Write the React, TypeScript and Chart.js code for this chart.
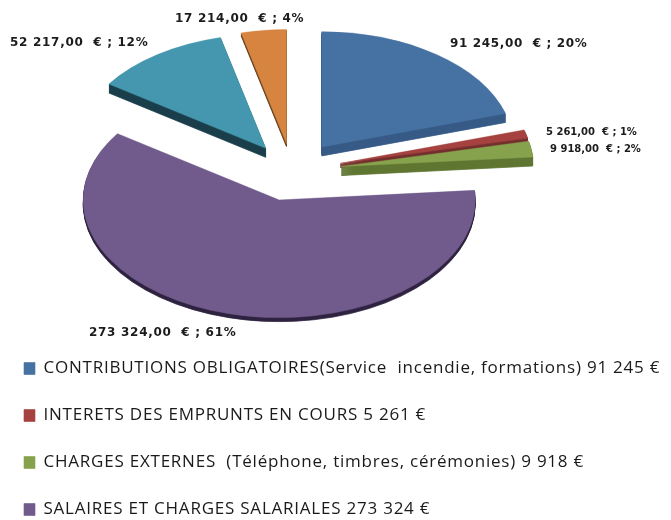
import React, { useEffect, useRef } from "react";
import { Chart, registerables } from "chart.js";

Chart.register(...registerables);

const categories = [
  "CONTRIBUTIONS OBLIGATOIRES(Service  incendie, formations) 91 245 €",
  "INTERETS DES EMPRUNTS EN COURS 5 261 €",
  "CHARGES EXTERNES  (Téléphone, timbres, cérémonies) 9 918 €",
  "SALAIRES ET CHARGES SALARIALES 273 324 €",
  "",
  "",
];
const values = [91245, 5261, 9918, 273324, 52217, 17214];
const faceColors = ["#4672A3", "#A5423F", "#86A24C", "#715A8C", "#4497AE", "#D6843F"];
const sideColors = ["#375A86", "#74302E", "#5F7632", "#2E2340", "#1B3F4B", "#6A4420"];
const explode = [50, 50, 50, 50, 46, 46];
const sliceRadius = [192, 192, 192, 196, 190, 190];
const sideDepth = [9, 4, 9, 4, 9, 3];
const labelAnchors = [
  [450, 44],
  [546, 132],
  [550, 149],
  [89, 333],
  [10, 43],
  [175, 19],
];
const labelSizes = [12, 10, 10, 12, 12, 12];
const labelTracking = ["0.65px", "0px", "0px", "0.7px", "0.7px", "0.7px"];
const LEGEND_ITEMS = 4;
const PIE_RADIUS = 190;
const PIE_X = 292;
const PIE_Y = 171;
const TILT = 0.6;

const total = values.reduce((a, b) => a + b, 0);
const money = (v: number) =>
  v.toFixed(2).replace(".", ",").replace(/\B(?=(\d{3})(?!\d))/g, " ");
const sliceLabel = (v: number) => `${money(v)}  € ; ${Math.round((v / total) * 100)}%`;

const tiltPlugin = {
  id: "tilt",
  afterLayout(chart: any) {
    const lg = chart.legend;
    lg.top = 520 - 218 + 28;
    lg.left = 24 - 30;
    lg.right = 700;
  },
  beforeDraw(chart: any) {
    chart.ctx.letterSpacing = "0.77px";
  },
  beforeDatasetsDraw(chart: any) {
    const { ctx, chartArea } = chart;
    ctx.letterSpacing = "0px";
    const arcs = chart.getDatasetMeta(0).data;
    const cx = (chartArea.left + chartArea.right) / 2;
    const cy = (chartArea.top + chartArea.bottom) / 2;
    ctx.save();
    ctx.translate(PIE_X, PIE_Y);
    ctx.scale(1, TILT);
    ctx.translate(-cx, -cy);
    arcs.forEach((arc: any, i: number) => {
      const mid = (arc.startAngle + arc.endAngle) / 2;
      arc.x = cx + Math.cos(mid) * explode[i];
      arc.y = cy + Math.sin(mid) * explode[i];
      arc.outerRadius = sliceRadius[i];
      const saved = arc.options;
      arc.options = {
        ...saved,
        backgroundColor: sideColors[i],
        borderColor: sideColors[i],
        borderWidth: 1,
      };
      for (let d = sideDepth[i]; d > 0; d--) {
        ctx.save();
        ctx.translate(0, d / TILT);
        arc.draw(ctx);
        ctx.restore();
      }
      arc.options = saved;
    });
  },
  afterDatasetsDraw(chart: any) {
    const { ctx } = chart;
    ctx.restore();
    ctx.save();
    ctx.fillStyle = "#1c1c1c";
    ctx.textBaseline = "middle";
    ctx.textAlign = "left";
    values.forEach((v, i) => {
      ctx.font = `bold ${labelSizes[i]}px 'DejaVu Sans'`;
      ctx.letterSpacing = labelTracking[i];
      ctx.fillText(sliceLabel(v), labelAnchors[i][0], labelAnchors[i][1]);
    });
    ctx.restore();
  },
};

export default function App() {
  const ref = useRef<HTMLCanvasElement>(null);
  useEffect(() => {
    const chart = new Chart(ref.current!, {
      type: "pie",
      data: {
        labels: categories,
        datasets: [
          {
            data: values,
            backgroundColor: faceColors,
            borderColor: faceColors,
            borderWidth: 0.6,
            radius: PIE_RADIUS,
            clip: false,
          } as any,
        ],
      },
      options: {
        responsive: false,
        animation: false,
        layout: { padding: 0 },
        plugins: {
          tooltip: { enabled: false },
          legend: {
            display: true,
            position: "bottom",
            align: "start",
            labels: {
              boxWidth: 11,
              boxHeight: 12,
              padding: 30,
              color: "#1a1a1a",
              font: { family: "Open Sans", size: 17 },
              filter: (item: any) => item.index < LEGEND_ITEMS,
            },
          },
        },
      },
      plugins: [tiltPlugin],
    } as any);
    return () => chart.destroy();
  }, []);
  return (
    <canvas
      ref={ref}
      width={671}
      height={520}
      style={{ position: "absolute", left: 0, top: 0, display: "block", filter: "blur(0.35px)" }}
    />
  );
}
